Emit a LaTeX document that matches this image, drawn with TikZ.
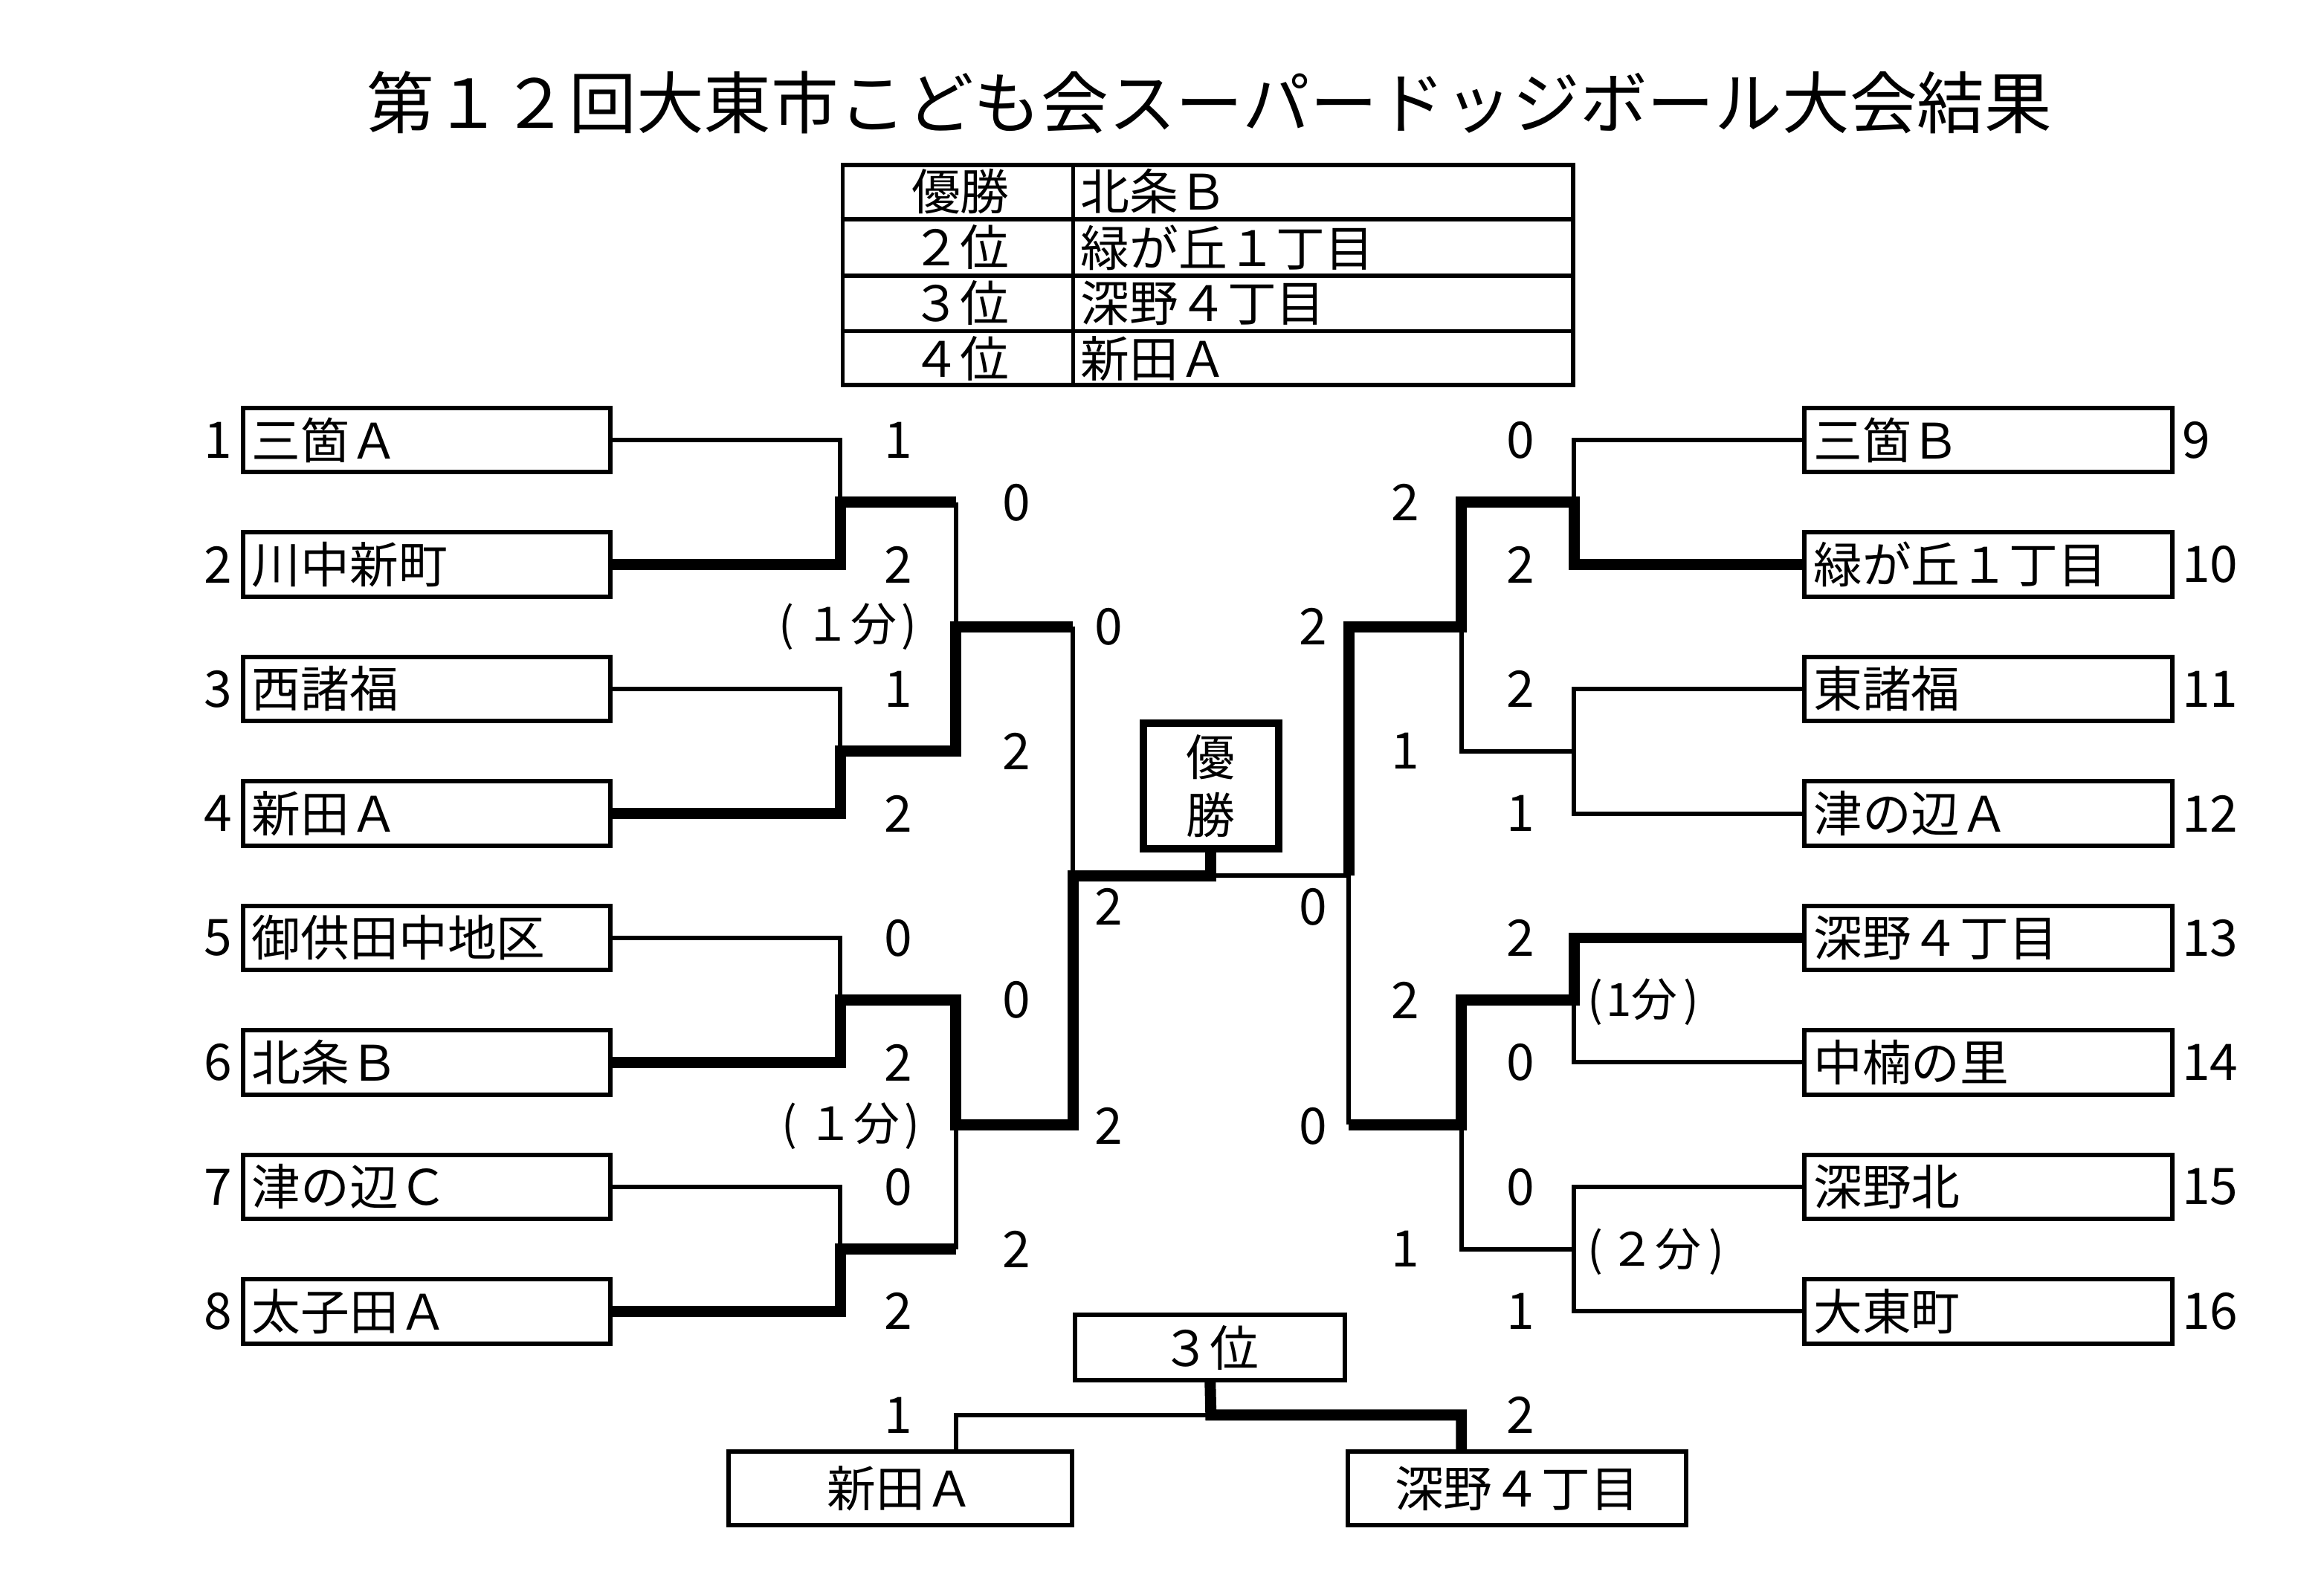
\documentclass[tikz,border=0pt]{standalone}
\usepackage{fontspec}
\setmainfont{Noto Sans CJK JP}
\usetikzlibrary{backgrounds}
\begin{document}
\begin{tikzpicture}[x=1pt,y=-1pt,
  loseline/.style={line width=3pt,line join=miter},
  winline/.style={line width=7.5pt,line join=miter},
  teambox/.style={draw,line width=3pt,fill=white,minimum height=43.5pt,text width=236pt,inner xsep=6pt,inner ysep=0pt,align=left,font=\fontsize{33}{36}\selectfont},
  plainbox/.style={draw,line width=3pt,fill=white,inner sep=0pt,font=\fontsize{33}{36}\selectfont},
  score/.style={inner sep=0pt,font=\fontsize{34}{36}\selectfont},
  note/.style={inner sep=0pt,font=\fontsize{31}{34}\selectfont},
  celltext/.style={inner sep=0pt,font=\fontsize{33}{36}\selectfont},
  tabline/.style={line width=2.8pt}
]
\useasboundingbox (0,0) rectangle (1568,1074);

% title
\node[inner sep=0pt,font=\fontsize{45.5}{48}\selectfont] (title) at (816,69) {第１２回大東市こども会スーパードッジボール大会結果};

% result table
\node[draw,line width=2.8pt,minimum width=493,minimum height=148.5,inner sep=0pt] (tab) at (815,185.5) {};
\coordinate (r1) at (0,148);
\coordinate (r2) at (0,186);
\coordinate (r3) at (0,223.5);
\coordinate (cdiv) at (724,0);
\draw[tabline] (tab.west |- r1) -- (tab.east |- r1);
\draw[tabline] (tab.west |- r2) -- (tab.east |- r2);
\draw[tabline] (tab.west |- r3) -- (tab.east |- r3);
\draw[tabline] (cdiv |- tab.north) -- (cdiv |- tab.south);
\node[celltext] (k1) at (648,129) {優勝};
\node[celltext] (k2) at (648,167) {２位};
\node[celltext] (k3) at (648,204.5) {３位};
\node[celltext] (k4) at (648,242) {４位};
\node[celltext,anchor=west] (v1) at (729,129) {北条Ｂ};
\node[celltext,anchor=west] (v2) at (729,167) {緑が丘１丁目};
\node[celltext,anchor=west] (v3) at (729,204.5) {深野４丁目};
\node[celltext,anchor=west] (v4) at (729,242) {新田Ａ};

% teams
\foreach \i/\n in {1/三箇Ａ,2/川中新町,3/西諸福,4/新田Ａ,5/御供田中地区,6/北条Ｂ,7/津の辺Ｃ,8/太子田Ａ}{
  \node[teambox] (t\i) at (288,{297+84*(\i-1)}) {\n};
  \node[score,anchor=east] (n\i) at (157,{297+84*(\i-1)}) {\i};
}
\foreach \i/\n in {9/三箇Ｂ,10/緑が丘１丁目,11/東諸福,12/津の辺Ａ,13/深野４丁目,14/中楠の里,15/深野北,16/大東町}{
  \node[teambox] (t\i) at (1341.5,{297+84*(\i-9)}) {\n};
  \node[score,anchor=west] (n\i) at (1472,{297+84*(\i-9)}) {\i};
}

% scores
\foreach \v [count=\k] in {1,2,1,2,0,2,0,2}{\node[score] (a\k) at (606,{297+84*(\k-1)}) {\v};}
\foreach \v [count=\k] in {0,2,2,1,2,0,0,1}{\node[score] (b\k) at (1026,{297+84*(\k-1)}) {\v};}
\foreach \v [count=\k] in {0,2,0,2}{\node[score] (c\k) at (686,{339+168*(\k-1)}) {\v};}
\foreach \v [count=\k] in {2,1,2,1}{\node[score] (d\k) at (948,{339+168*(\k-1)}) {\v};}
\node[score] (e1) at (748,423) {0};
\node[score] (e2) at (748,760) {2};
\node[score] (f1) at (886,423) {2};
\node[score] (f2) at (886,760) {0};
\node[score] (g1) at (748,612) {2};
\node[score] (g2) at (886,612) {0};
\node[score] (h1) at (606,955) {1};
\node[score] (h2) at (1026,955) {2};

% notes
\node[note] (p1) at (572,423) {(\hspace{7pt}１分\hspace{3pt})};
\node[note] (p2) at (574,760) {(\hspace{7pt}１分\hspace{3pt})};
\node[note,anchor=west] (p3) at (1071,676) {(\hspace{2pt}1分\hspace{4pt})};
\node[note,anchor=west] (p4) at (1071,845) {(\hspace{4pt}２分\hspace{5pt})};

% champion box
\node[draw,line width=5pt,fill=white,minimum width=91,minimum height=85,inner sep=0pt,align=center,font=\fontsize{33}{39}\selectfont] (win) at (817,530.5) {優\\勝};

% third place
\node[plainbox,minimum width=182,minimum height=44] (third) at (816.5,909.5) {３位};
\node[plainbox,minimum width=232,minimum height=50] (b1) at (607.5,1004.5) {新田Ａ};
\node[plainbox,minimum width=228,minimum height=50] (b2) at (1023.5,1004.5) {深野４丁目};

% junction points
\coordinate (LA) at (567,339);  \coordinate (LB) at (567,507);
\coordinate (LC) at (567,675);  \coordinate (LD) at (567,843);
\coordinate (LA2) at (645,339); \coordinate (LB2) at (645,507);
\coordinate (LC2) at (645,675); \coordinate (LD2) at (645,843);
\coordinate (LAB) at (645,423); \coordinate (LCD) at (645,759);
\coordinate (LAB3) at (724,423); \coordinate (LCD3) at (724,759);
\coordinate (LF) at (724,591);  \coordinate (CF) at (817,591);  \coordinate (RF) at (910,591);
\coordinate (RA) at (1062,339); \coordinate (RB) at (1062,507);
\coordinate (RC) at (1062,675); \coordinate (RD) at (1062,843);
\coordinate (RA2) at (986,339); \coordinate (RB2) at (986,507);
\coordinate (RC2) at (986,675); \coordinate (RD2) at (986,843);
\coordinate (RAB) at (986,423); \coordinate (RCD) at (986,759);
\coordinate (RAB3) at (910,423); \coordinate (RCD3) at (910,759);
\coordinate (T3) at (817,955);  \coordinate (T3L) at (645,955); \coordinate (T3R) at (986,955);

\begin{scope}[on background layer]
  \fill[white] (0,0) rectangle (1568,1074);
  % losing lines
  \draw[loseline] (t1.east) -| (LA);
  \draw[loseline] (t3.east) -| (LB);
  \draw[loseline] (t5.east) -| (LC);
  \draw[loseline] (t7.east) -| (LD);
  \draw[loseline] (LA2) -- (LAB);
  \draw[loseline] (LD2) -- (LCD);
  \draw[loseline] (LAB3) -- (LF);
  \draw[loseline] (t9.west) -| (RA);
  \draw[loseline] (t11.west) -| (RB);
  \draw[loseline] (t12.west) -| (RB) -- (RB2) -- (RAB);
  \draw[loseline] (t14.west) -| (RC);
  \draw[loseline] (t15.west) -| (RD);
  \draw[loseline] (t16.west) -| (RD) -- (RD2) -- (RCD);
  \draw[loseline] (RCD3) -- (RF) -- (CF);
  \draw[loseline] (T3) -- (T3L) -- (T3L |- b1.north);
  % winning lines
  \draw[winline] (t2.east) -| (LA) -- (LA2);
  \draw[winline] (t4.east) -| (LB) -- (LB2) -- (LAB) -- (LAB3);
  \draw[winline] (t6.east) -| (LC) -- (LC2) -- (LCD) -- (LCD3) -- (LF) -- ([xshift=3.75pt]CF);
  \draw[winline] (t8.east) -| (LD) -- (LD2);
  \draw[winline] (t10.west) -| (RA) -- (RA2) -- (RAB) -- (RAB3) -- (RF);
  \draw[winline] (t13.west) -| (RC) -- (RC2) -- (RCD) -- (RCD3);
  \draw[winline] (win.south) -- (CF);
  \draw[winline] (third.south) -- (T3) -- (T3R) -- (T3R |- b2.north);
\end{scope}
\end{tikzpicture}
\end{document}
